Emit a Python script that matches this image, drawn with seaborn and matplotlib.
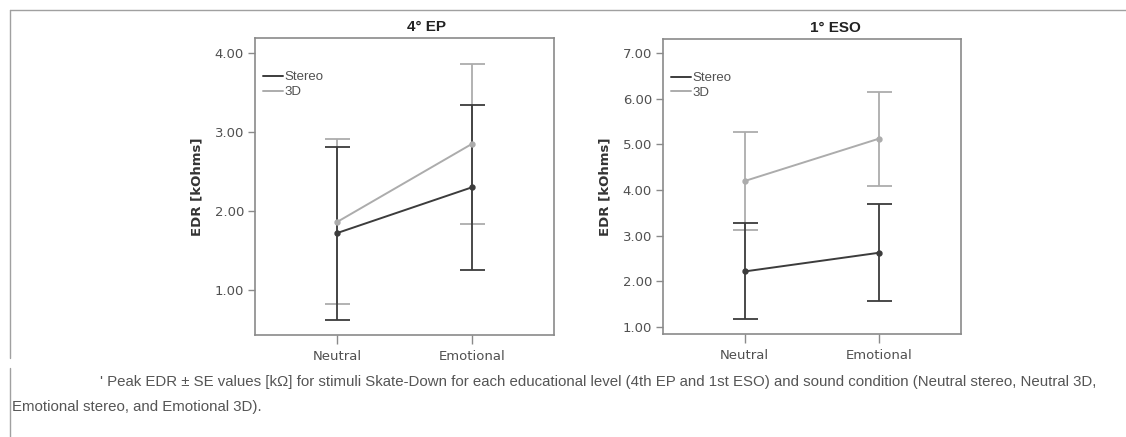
import matplotlib
matplotlib.use("Agg")
import matplotlib.pyplot as plt
from matplotlib.lines import Line2D
import seaborn as sns
import pandas as pd
import numpy as np

# ---- data ----
conditions = ["Neutral", "Emotional"]
groups = ["Stereo", "3D"]

ep_stereo_mean = [1.72, 2.30]
ep_stereo_low = [0.62, 1.25]
ep_stereo_high = [2.81, 3.34]
ep_3d_mean = [1.86, 2.85]
ep_3d_low = [0.82, 1.84]
ep_3d_high = [2.91, 3.86]

eso_stereo_mean = [2.22, 2.63]
eso_stereo_low = [1.17, 1.58]
eso_stereo_high = [3.29, 3.70]
eso_3d_mean = [4.20, 5.13]
eso_3d_low = [3.12, 4.10]
eso_3d_high = [5.28, 6.15]

panel_titles = ["4\u00b0 EP", "1\u00b0 ESO"]
ep_yticks = [1.00, 2.00, 3.00, 4.00]
eso_yticks = [1.00, 2.00, 3.00, 4.00, 5.00, 6.00, 7.00]
ylabel = "EDR [kOhms]"
caption1 = "' Peak EDR \u00b1 SE values [k\u03a9] for stimuli Skate-Down for each educational level (4th EP and 1st ESO) and sound condition (Neutral stereo, Neutral 3D,"
caption2 = "Emotional stereo, and Emotional 3D)."

colors = {"Stereo": "#3c3c3c", "3D": "#acacac"}
frame_col = "#8a8a8a"
text_col = "#505050"

sns.set_theme(style="white")
plt.rcParams["font.family"] = ["DejaVu Sans"]

fig = plt.figure(figsize=(11.26, 4.37), dpi=100)
ax1 = fig.add_axes([255/1126, 102/437, 299/1126, 297/437])
ax2 = fig.add_axes([663/1126, 103/437, 298/1126, 295/437])

panels = [
    (ax1, ep_stereo_mean, ep_stereo_low, ep_stereo_high, ep_3d_mean, ep_3d_low, ep_3d_high, (0.43, 4.19), ep_yticks, 0.575),
    (ax2, eso_stereo_mean, eso_stereo_low, eso_stereo_high, eso_3d_mean, eso_3d_low, eso_3d_high, (0.85, 7.31), eso_yticks, 0.58),
]

for i, (ax, sm, sl, sh, dm, dl, dh, ylim, yt, tx) in enumerate(panels):
    df = pd.DataFrame({
        "condition": conditions * 2,
        "group": ["Stereo"] * 2 + ["3D"] * 2,
        "value": sm + dm,
    })
    for g, m, lo, hi in [("3D", dm, dl, dh), ("Stereo", sm, sl, sh)]:
        m = np.array(m); lo = np.array(lo); hi = np.array(hi)
        ax.errorbar([0, 1], m, yerr=[m - lo, hi - m], fmt="none",
                    ecolor=colors[g], elinewidth=1.3, capsize=9, capthick=1.3, zorder=2)
    sns.pointplot(data=df, x="condition", y="value", hue="group", order=conditions,
                  hue_order=groups, palette=colors, errorbar=None, ax=ax,
                  markers="o", markersize=3.5, linewidth=1.4, legend=False, zorder=3)
    ax.set_xlim(-0.607, 1.607)
    ax.set_ylim(*ylim)
    ax.set_yticks(yt)
    ax.set_yticklabels([f"{v:.2f}" for v in yt])
    ax.set_xlabel("")
    ax.set_ylabel(ylabel, fontsize=9.5, fontweight="bold", color="#333333", labelpad=8)
    ax.text(tx, 1 + 4/297, panel_titles[i], transform=ax.transAxes, ha="center", va="bottom",
            fontsize=11, fontweight="bold", color="#222222",
            family=["Liberation Sans", "DejaVu Sans"])
    for s in ax.spines.values():
        s.set_color(frame_col)
        s.set_linewidth(1.2)
    ax.tick_params(axis="both", which="both", direction="out", width=1,
                   color=frame_col, labelcolor=text_col, labelsize=9.5,
                   left=True, bottom=True)
    ax.tick_params(axis="y", length=5, pad=3)
    ax.tick_params(axis="x", length=6.5, pad=4)
    handles = [Line2D([0], [0], color=colors[g], lw=1.4) for g in groups]
    leg = ax.legend(handles, groups, loc="upper left", frameon=False, fontsize=9.5,
                    handlelength=1.5, handletextpad=0.1, borderaxespad=0.2,
                    labelspacing=0.2, bbox_to_anchor=(0.0, 0.915))
    for t in leg.get_texts():
        t.set_color(text_col)
        t.set_family(["Liberation Sans", "DejaVu Sans"])

# figure frame lines
fig.add_artist(Line2D([10/1126, 1.0], [1 - 10/437, 1 - 10/437], color="#a0a0a0", lw=1.0))
fig.add_artist(Line2D([10/1126, 10/1126], [1 - 10/437, 1 - 358/437], color="#a0a0a0", lw=1.0))
fig.add_artist(Line2D([10/1126, 10/1126], [1 - 368/437, 0.0], color="#a0a0a0", lw=1.0))

cap_font = ["Liberation Sans", "DejaVu Sans"]
fig.text(100/1126, 1 - 382/437, caption1, fontsize=10.8, color="#555555", va="center",
         ha="left", family=cap_font)
fig.text(12/1126, 1 - 407/437, caption2, fontsize=10.8, color="#555555", va="center",
         ha="left", family=cap_font)

fig.savefig("out.png", dpi=100)
